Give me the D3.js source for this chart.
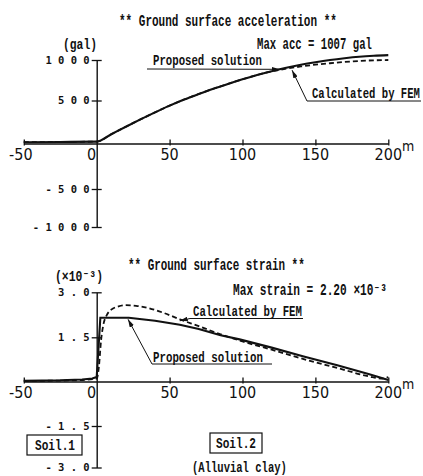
<!DOCTYPE html>
<html><head><meta charset="utf-8">
<script src="https://cdn.jsdelivr.net/npm/d3@7"></script>
<style>body{margin:0;background:#fff}svg{display:block}</style>
</head><body><svg id="c" width="423" height="476"></svg>
<script>
// ---------- data ----------
const xTicks = [-50, 0, 50, 100, 150, 200];
const xTickLabels = ["-50", "0", "50", "100", "150", "200"];

const accTicks = [-1000, -500, 500, 1000];
const accTickLabels = ["- 1 0 0 0", "- 5 0 0", "5 0 0", "1 0 0 0"];
const strainTicks = [-3, -1.5, 1.5, 3];
const strainTickLabels = ["- 3 . 0", "- 1 . 5", "1 . 5", "3 . 0"];

const accDist     = [-50, -25, 0, 10, 20, 30, 40, 50, 60, 70, 80, 90, 100, 110, 120, 130, 140, 150, 160, 170, 180, 190, 200];
const accProposed = [15, 18, 22, 108, 195, 280, 362, 440, 512, 580, 645, 705, 762, 815, 862, 905, 942, 973, 1000, 1022, 1040, 1052, 1060];
const accFEM      = [15, 18, 22, 108, 195, 280, 362, 440, 512, 580, 645, 705, 762, 815, 860, 893, 920, 942, 960, 976, 988, 996, 1000];

const strainDistProposed = [-50, -25, -10, -3, 0, 2.5, 22, 40, 57, 70, 85, 98, 120, 142, 165, 187, 200];
const strainProposed     = [0.02, 0.04, 0.07, 0.1, 0.15, 2.15, 2.15, 2.05, 1.92, 1.78, 1.57, 1.43, 1.15, 0.85, 0.55, 0.25, 0.05];
const strainDistFEM = [-50, -25, -10, 0, 1.5, 3, 4.5, 7, 10, 15, 20, 27, 35, 45, 57, 70, 85, 100, 120, 142, 165, 187, 195, 200];
const strainFEM     = [0.02, 0.03, 0.05, 0.1, 0.5, 1.4, 1.9, 2.25, 2.42, 2.53, 2.57, 2.55, 2.48, 2.33, 2.1, 1.87, 1.6, 1.36, 1.08, 0.76, 0.46, 0.17, 0.1, 0.15];

// ---------- setup ----------
const svg = d3.select("#c");
const TW = "'Liberation Mono','DejaVu Sans Mono',monospace";
const NUM = "'Liberation Sans Narrow','DejaVu Sans Condensed','Liberation Sans',sans-serif";
const INK = "#111";

const x = d3.scaleLinear().domain([-50, 200]).range([23.8, 388.3]);
const yA = d3.scaleLinear().domain([-1000, -500, 0, 500, 1000]).range([227, 189, 143.5, 100.5, 60]);
const yS = d3.scaleLinear().domain([-3, -1.5, 0, 1.5, 3]).range([467.5, 426, 381.5, 337.3, 292.3]);

svg.append("defs").append("marker")
  .attr("id", "arr").attr("viewBox", "0 0 10 6").attr("refX", 10).attr("refY", 3)
  .attr("markerWidth", 8).attr("markerHeight", 5).attr("markerUnits", "userSpaceOnUse")
  .attr("orient", "auto")
  .append("path").attr("d", "M0,0L10,3L0,6Z").attr("fill", INK);

// condensed typewriter-like label: horizontally scaled to the wanted width
function label(t, x0, yb, w, size) {
  const g = svg.append("g");
  const el = g.append("text").attr("x", 0).attr("y", 0)
    .attr("font-family", TW).attr("font-size", size).attr("font-weight", "bold")
    .attr("fill", INK).text(t);
  const nat = el.node().getComputedTextLength() || w;
  g.attr("transform", `translate(${x0},${yb}) scale(${w / nat},1)`);
  return el;
}

function drawAxes(y, yTicks, yLabels) {
  const gx = svg.append("g").attr("transform", `translate(0,${y(0)})`)
    .call(d3.axisBottom(x).tickValues(xTicks.filter(d => d !== 0)).tickSizeOuter(0).tickFormat(""));
  gx.select(".domain").attr("stroke", INK).attr("stroke-width", 1.4);
  gx.selectAll(".tick line").attr("stroke", INK).attr("stroke-width", 1.3).attr("y1", -4).attr("y2", 2);

  const gy = svg.append("g").attr("transform", `translate(${x(0)},0)`)
    .call(d3.axisLeft(y).tickValues(yTicks).tickSizeOuter(0).tickFormat(""));
  gy.select(".domain").attr("stroke", INK).attr("stroke-width", 1.4);
  gy.selectAll(".tick line").attr("stroke", INK).attr("stroke-width", 1.3).attr("x1", -5).attr("x2", 5);

  yTicks.forEach((v, i) => {
    svg.append("text").attr("x", x(0) - 7).attr("y", y(v)).attr("dy", "0.36em")
      .attr("text-anchor", "end").attr("font-family", "'DejaVu Sans Mono',monospace").attr("font-weight", "bold")
      .attr("font-size", 10.5).attr("fill", INK).text(yLabels[i]);
  });
  xTicks.forEach((v, i) => {
    const t = svg.append("text").attr("y", y(0) + 16.5).attr("font-family", NUM)
      .attr("font-size", 16).attr("fill", INK).text(xTickLabels[i]);
    if (v === 0) t.attr("x", x(0) - 0.5).attr("text-anchor", "end");
    else t.attr("x", x(v) + (v < 0 ? -3 : 0)).attr("text-anchor", "middle");
  });
  svg.append("text").attr("x", 402).attr("y", y(0) + 7).attr("font-family", NUM)
    .attr("font-size", 14).attr("fill", INK).text("m");
}

function drawLine(xs, ys, y, dashed, curve) {
  const pts = xs.map((d, i) => [d, ys[i]]);
  svg.append("path").datum(pts)
    .attr("d", d3.line().x(d => x(d[0])).y(d => y(d[1])).curve(curve))
    .attr("fill", "none").attr("stroke", INK)
    .attr("stroke-width", dashed ? 1.8 : 2.1)
    .attr("stroke-dasharray", dashed ? "5,3" : null);
}

function leader(points, arrow) {
  svg.append("path").attr("d", d3.line()(points)).attr("fill", "none")
    .attr("stroke", INK).attr("stroke-width", 1)
    .attr("marker-end", arrow ? "url(#arr)" : null);
}

// ---------- top chart: acceleration ----------
label("** Ground surface acceleration **", 119, 26, 218, 17);
label("(gal)", 63, 49, 34, 15);
label("Max acc = 1007 gal", 257, 49, 115, 16);
drawAxes(yA, accTicks, accTickLabels);
drawLine(accDist, accFEM, yA, true, d3.curveMonotoneX);
drawLine(accDist, accProposed, yA, false, d3.curveMonotoneX);

label("Proposed solution", 153, 65, 109, 15);
leader([[147, 69], [x(125.5), yA(885)]], true);
label("Calculated by FEM", 312, 98, 108, 15);
leader([[307, 101], [421, 101]], false);
leader([[307, 101], [x(134), yA(875)]], true);

// ---------- bottom chart: strain ----------
label("** Ground surface strain **", 128, 270, 177, 17);
label("(×10⁻³)", 55, 281, 48, 15);
label("Max strain = 2.20 ×10⁻³", 233, 295, 154, 16);
drawAxes(yS, strainTicks, strainTickLabels);
drawLine(strainDistFEM, strainFEM, yS, true, d3.curveMonotoneX);
drawLine(strainDistProposed, strainProposed, yS, false, d3.curveLinear);

label("Calculated by FEM", 193, 316, 109, 15);
leader([[190, 318.5], [303, 318.5]], false);
leader([[190, 318.5], [x(57), yS(2.05)]], true);
label("Proposed solution", 153, 362, 110, 15);
leader([[152, 364], [272, 364]], false);
leader([[152, 364], [x(21.5), yS(2.1)]], true);

// soil boxes
svg.append("rect").attr("x", 27).attr("y", 435).attr("width", 55).attr("height", 20)
  .attr("fill", "none").attr("stroke", INK).attr("stroke-width", 1.2);
label("Soil.1", 35, 450, 40, 15);
svg.append("rect").attr("x", 210).attr("y", 433).attr("width", 52).attr("height", 20)
  .attr("fill", "none").attr("stroke", INK).attr("stroke-width", 1.2);
label("Soil.2", 216, 448, 40, 15);
label("(Alluvial clay)", 192, 472, 95, 15);
</script></body></html>
